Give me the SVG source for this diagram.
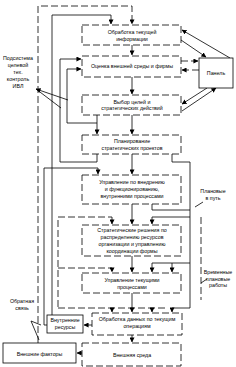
<svg xmlns="http://www.w3.org/2000/svg" width="236" height="367" viewBox="0 0 236 367">
<style>
.b{fill:#fff;stroke:#000;stroke-width:0.8}
.d{stroke-dasharray:7 3}
.l{fill:none;stroke:#000;stroke-width:0.8}
.t{font-family:"Liberation Sans",Arial,sans-serif;font-size:5.3px;text-anchor:middle;fill:#000}
</style>
<defs>
<marker id="a" viewBox="0 0 6 6" refX="5.5" refY="3" markerWidth="5" markerHeight="5" orient="auto" markerUnits="userSpaceOnUse"><path d="M0,0 L6,3 L0,6 Z" fill="#000"/></marker>
</defs>
<rect width="236" height="367" fill="#fff"/>
<g id="connectors">
<path class="l d" d="M38,343 V6 H132 V24" marker-end="url(#a)"/>
<path class="l" d="M52,315 V15 H111 V24" marker-end="url(#a)"/>
<path class="l" d="M132,45 V55" marker-end="url(#a)"/>
<path class="l" d="M181,40 L206,57" marker-end="url(#a)"/>
<path class="l" d="M230,58 L182,30" marker-end="url(#a)"/>
<path class="l d" d="M181,61 H198" marker-end="url(#a)"/>
<path class="l d" d="M199,70 H182" marker-end="url(#a)"/>
<path class="l" d="M207,88 L182,104" marker-end="url(#a)"/>
<path class="l" d="M182,111 L216,88" marker-end="url(#a)"/>
<path class="l" d="M132,77 V94" marker-end="url(#a)"/>
<path class="l" d="M68,100 L36,89" marker-end="url(#a)"/>
<path class="l" d="M61,108 L36,89"/>
<path class="l" d="M97,115 V123 H67 V69 H81" marker-end="url(#a)"/>
<path class="l" d="M97,123 V134" marker-end="url(#a)"/>
<path class="l" d="M97,154 V162 H60 V59 H81" marker-end="url(#a)"/>
<path class="l" d="M132,115 V134" marker-end="url(#a)"/>
<path class="l" d="M132,154 V174" marker-end="url(#a)"/>
<path class="l" d="M47,325 H44 V168 H98 V174" marker-end="url(#a)"/>
<path class="l" d="M172,154 V162 H190 V308 H172 V312" marker-end="url(#a)"/>
<path class="l" d="M190,217 H152 V224" marker-end="url(#a)"/>
<path class="l" d="M152,204 V210 H190"/>
<path class="l" d="M190,263 H152 V272" marker-end="url(#a)"/>
<path class="l" d="M172,263 V272" marker-end="url(#a)"/>
<path class="l" d="M132,204 V224" marker-end="url(#a)"/>
<path class="l d" d="M58,307 V217 H112 V224" marker-end="url(#a)"/>
<path class="l d" d="M58,268 H112 V272" marker-end="url(#a)"/>
<path class="l d" d="M58,308 H165"/>
<path class="l" d="M112,308 V312" marker-end="url(#a)"/>
<path class="l" d="M152,308 V312" marker-end="url(#a)"/>
<path class="l d" d="M201,217 V300"/>
<path class="l" d="M132,256 V272" marker-end="url(#a)"/>
<path class="l" d="M132,293 V312" marker-end="url(#a)"/>
<path class="l" d="M92,325 H84" marker-end="url(#a)"/>
<path class="l" d="M132,335 V342" marker-end="url(#a)"/>
<path class="l" d="M86,353 H77" marker-end="url(#a)"/>
<path class="l" d="M31,321 L41,325 M31,321 L39,340"/>
<path class="l" d="M203,202 L195,207"/>
<path class="l" d="M207,279 L201,283"/>
</g>
<g id="n1"><rect class="b d" x="82" y="25" width="99" height="20"/><text class="t" x="132" y="33.5">Обработка текущей</text><text class="t" x="132" y="40.5">информации</text></g>
<g id="n2"><rect class="b d" x="82" y="56" width="99" height="21"/><text class="t" x="132" y="68">Оценка внешней среды и фирмы</text></g>
<g id="n3"><rect class="b" x="199" y="58" width="34" height="30"/><text class="t" x="216" y="75">Панель</text></g>
<g id="n4"><rect class="b d" x="82" y="95" width="99" height="20"/><text class="t" x="132" y="103.5">Выбор целей и</text><text class="t" x="132" y="110">стратегических действий</text></g>
<g id="n5"><rect class="b d" x="82" y="135" width="99" height="19"/><text class="t" x="132" y="143">Планирование</text><text class="t" x="132" y="150">стратегических проектов</text></g>
<g id="n6"><rect class="b d" x="82" y="175" width="99" height="29"/><text class="t" x="132" y="184">Управление по внедрению</text><text class="t" x="132" y="191">и функционированию,</text><text class="t" x="132" y="198">внутренними процессами</text></g>
<g id="n7"><rect class="b d" x="82" y="225" width="99" height="31"/><text class="t" x="132" y="232">Стратегические решения по</text><text class="t" x="132" y="239">распределению ресурсов</text><text class="t" x="132" y="246">организации и управлению</text><text class="t" x="132" y="253">координации формы</text></g>
<g id="n8"><rect class="b d" x="82" y="273" width="99" height="20"/><text class="t" x="132" y="282">Управление текущими</text><text class="t" x="132" y="289">процессами</text></g>
<g id="n9"><rect class="b" x="47" y="315" width="36" height="18"/><text class="t" x="65" y="322">Внутренние</text><text class="t" x="65" y="329">ресурсы</text></g>
<g id="n10"><rect class="b d" x="92" y="313" width="90" height="22"/><text class="t" x="137" y="321">Обработка данных по текущим</text><text class="t" x="137" y="328">операциям</text></g>
<g id="n11"><rect class="b" x="3" y="343" width="73" height="20"/><text class="t" x="39.5" y="356">Внешние факторы</text></g>
<g id="n12"><rect class="b d" x="82" y="343" width="99" height="23"/><text class="t" x="132" y="357">Внешняя среда</text></g>
<g id="labels">
<text class="t" x="18" y="60">Подсистема</text><text class="t" x="18" y="67">целевой</text><text class="t" x="18" y="74">тех.</text><text class="t" x="18" y="81">контроль</text><text class="t" x="18" y="88">ИВЛ</text>
<text class="t" x="213" y="193">Плановые</text><text class="t" x="213" y="200">в путь</text>
<text class="t" x="218" y="274">Временные</text><text class="t" x="218" y="280.5">плановые</text><text class="t" x="218" y="287">работы</text>
<text class="t" x="22" y="303">Обратная</text><text class="t" x="22" y="310">связь</text>
</g>
</svg>
